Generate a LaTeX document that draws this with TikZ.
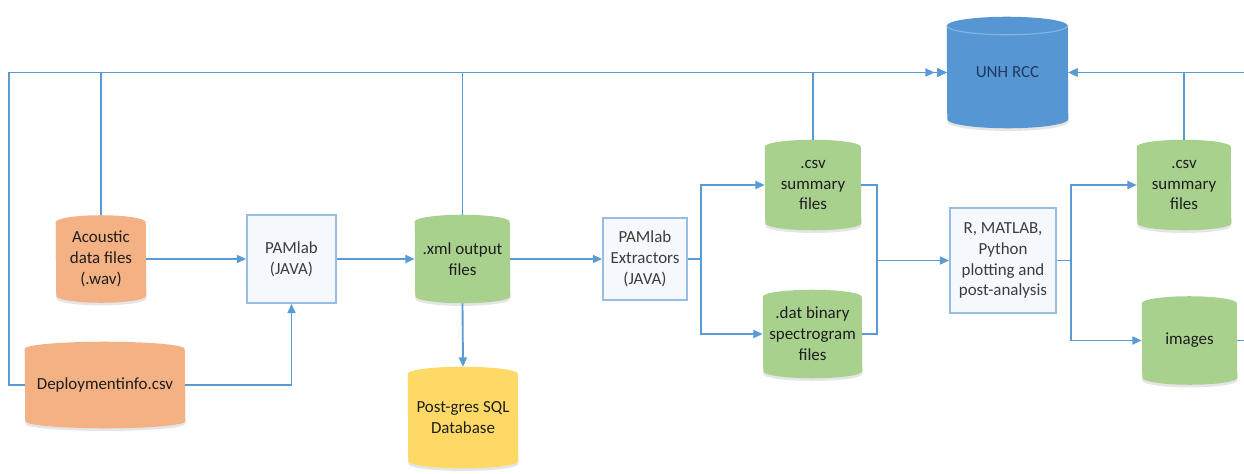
\documentclass[tikz,border=0pt]{standalone}
\usepackage{fontspec}
\setmainfont{Carlito}
\usetikzlibrary{arrows.meta}

\definecolor{flow}{RGB}{91,155,213}
\definecolor{rccblue}{RGB}{86,150,211}
\definecolor{rccrim}{RGB}{128,180,228}
\definecolor{orangefill}{RGB}{244,177,131}
\definecolor{greenfill}{RGB}{169,209,142}
\definecolor{yellowfill}{RGB}{255,217,102}
\definecolor{boxline}{RGB}{150,190,228}
\definecolor{boxfill}{RGB}{245,248,252}
\definecolor{boxtext}{RGB}{60,60,60}
\definecolor{drumtext}{RGB}{30,30,30}
\definecolor{rcctext}{RGB}{31,56,100}

\pgfdeclarelayer{bg}
\pgfsetlayers{bg,main}

% one pixel of the drawing grid
\newcommand\pxu{0.75pt}
% vertical half-axis of a drum's end caps
\newcommand\capr{5.25pt}

\tikzset{
  flowline/.style={draw=flow, line width=1.4pt},
  arr/.style={flowline, -{Triangle[length=7pt,width=6pt]}},
  procbox/.style={draw=boxline, line width=1.3pt, fill=boxfill, text=boxtext,
    align=center, inner sep=2pt},
  drumlabel/.style={align=center, inner sep=2pt, text=drumtext},
  drumbody/.style={preaction={fill=black, opacity=0.10,
    transform canvas={yshift=-2pt}}},
}

% data store drawn as an upright drum: name, centre, width, height, fill, label
\newcommand\drum[6]{%
  \node[drumlabel, minimum width=#3*\pxu, minimum height=#4*\pxu] (#1) at (#2) {#6};
  \begin{pgfonlayer}{bg}
    \fill[drumbody, #5] ([yshift=-\capr]#1.north west)
      arc[start angle=180, end angle=0, x radius=#3*\pxu/2, y radius=\capr]
      -- ([yshift=\capr]#1.south east)
      arc[start angle=0, end angle=-180, x radius=#3*\pxu/2, y radius=\capr]
      -- cycle;
  \end{pgfonlayer}}

\begin{document}
\begin{tikzpicture}[x=0.75pt, y=-0.75pt, font=\fontsize{12.7}{15.7}\selectfont]
\useasboundingbox (0,0) rectangle (1244,474);

% data stores
\drum{acoustic}{101,259}{90}{87}{orangefill}{Acoustic\\data files\\(.wav)}
\drum{deploy}{105,385}{160}{86}{orangefill}{Deploymentinfo.csv}
\drum{xml}{462.5,259}{95}{88}{greenfill}{.xml output\\files}
\drum{pg}{463,417.5}{110}{101}{yellowfill}{Post-gres SQL\\Database}
\drum{csv1}{813,185}{96}{90}{greenfill}{.csv\\summary\\files}
\drum{dat}{812.5,334}{99}{88}{greenfill}{.dat binary\\spectrogram\\files}
\drum{csv2}{1184,185}{94}{90}{greenfill}{.csv\\summary\\files}
\drum{img}{1189.5,340.5}{95}{88}{greenfill}{images}
\begin{scope}
  \renewcommand\capr{6.75pt}
  \drum{rcc}{1007.5,72.5}{121}{111}{rccblue}{\textcolor{rcctext}{UNH RCC}}
  \draw[rccrim, line width=0.9pt] ([yshift=-\capr]rcc.north west)
    arc[start angle=180, end angle=360, x radius=121*\pxu/2, y radius=\capr];
\end{scope}

% processing steps
\node[procbox, minimum width=89*\pxu, minimum height=88*\pxu] (pam) at (291.5,259) {PAMlab\\(JAVA)};
\node[procbox, minimum width=84*\pxu, minimum height=82*\pxu] (ext) at (645,259) {PAMlab\\Extractors\\(JAVA)};
\node[procbox, minimum width=106*\pxu, minimum height=105*\pxu] (rbox) at (1003,260.5) {R, MATLAB,\\Python\\plotting and\\post-analysis};

% branch points
\coordinate (s1) at (701,259);
\coordinate (j) at (877,260.5);
\coordinate (s2) at (1071,260.5);
\coordinate (topright) at (1244,72.5);

% uploads to the cluster
\draw[flowline, -{Triangle[length=7pt,width=6pt,sep=2pt]Triangle[length=7pt,width=6pt]}]
  (deploy.west) -- ++(-16,0) |- (rcc.west);
\draw[arr] (acoustic.north) |- (rcc.west);
\draw[arr] (xml.north) |- (rcc.west);
\draw[arr] (csv1.north) |- (rcc.west);
\draw[arr] (topright) -- (rcc.east);
\draw[arr] (csv2.north) |- (rcc.east);
\draw[flowline] (img.east) -- (img.east -| topright);

% processing chain
\draw[arr] (acoustic.east) -- (pam.west);
\draw[arr] (deploy.east) -| (pam.south);
\draw[arr] (pam.east) -- (xml.west);
\draw[arr] (xml.south) -- (pg.north);
\draw[arr] (xml.east) -- (ext.west);
\draw[flowline] (ext.east) -- (s1);
\draw[arr] (s1) |- (csv1.west);
\draw[arr] (s1) |- (dat.west);
\draw[flowline] (csv1.east) -| (j);
\draw[flowline] (dat.east) -| (j);
\draw[arr] (j) -- (rbox.west);
\draw[flowline] (rbox.east) -- (s2);
\draw[arr] (s2) |- (csv2.west);
\draw[arr] (s2) |- (img.west);
\end{tikzpicture}
\end{document}
